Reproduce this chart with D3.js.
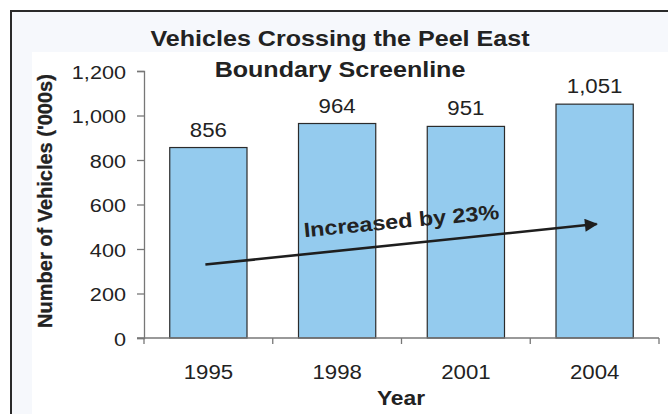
<!DOCTYPE html>
<html>
<head>
<meta charset="utf-8">
<script src="https://cdn.jsdelivr.net/npm/d3@7/dist/d3.min.js"></script>
<style>
  html, body { margin: 0; padding: 0; background: #ffffff; }
  svg { display: block; font-family: "Liberation Sans", Arial, sans-serif; }
</style>
</head>
<body>
<svg id="chart" width="668" height="414"></svg>
<script>
const years = ["1995", "1998", "2001", "2004"];
const vehicles = [856, 964, 951, 1051];
const yTicks = [0, 200, 400, 600, 800, 1000, 1200];
const titleLines = ["Vehicles Crossing the Peel East", "Boundary Screenline"];
const arrowFrom = { year: "1995", value: 330 };
const arrowTo = { year: "2004", value: 512 };
const arrowLabel = "Increased by 23%";

const svg = d3.select("#chart");
const W = 668, H = 414;
const SX = 1.14; // horizontal stretch of the original raster text

function addText(g, px, py, str, size, bold, anchor, extra) {
  return g.append("text")
    .attr("transform", `translate(${px},${py}) ${extra || ""} scale(${SX},1)`)
    .attr("text-anchor", anchor || "middle")
    .attr("font-size", size)
    .attr("font-weight", bold ? "bold" : "normal")
    .attr("fill", "#222")
    .text(str);
}

// frame
svg.append("rect").attr("x", 11).attr("y", 11).attr("width", W).attr("height", H)
  .attr("fill", "#f6f8fc").attr("stroke", "#2a2a2a").attr("stroke-width", 2);
svg.append("rect").attr("x", 32).attr("y", 52).attr("width", W - 32).attr("height", H - 52)
  .attr("fill", "#ffffff");

const plot = { left: 144, right: 659, top: 71, bottom: 338 };

const x = d3.scaleBand().domain(years).range([plot.left, plot.right]).paddingInner(0.4).paddingOuter(0.2);
const y = d3.scaleLinear().domain([0, 1200]).range([plot.bottom, plot.top]);

// y axis
const yAxis = d3.axisLeft(y).tickValues(yTicks).tickSize(7).tickPadding(11)
  .tickFormat(d3.format(","));
const gy = svg.append("g").attr("transform", `translate(${plot.left},0)`).call(yAxis);
gy.select(".domain").attr("stroke", "#777").attr("stroke-width", 1.3);
gy.selectAll(".tick line").attr("stroke", "#777").attr("stroke-width", 1.3);
gy.selectAll(".tick text")
  .attr("x", null).attr("dy", null)
  .attr("transform", `translate(-18,7) scale(${SX},1)`)
  .attr("font-size", 19).attr("fill", "#222")
  .attr("font-family", "Liberation Sans, Arial, sans-serif");

// bars
svg.append("g").selectAll("rect").data(years).join("rect")
  .attr("x", d => x(d))
  .attr("y", (d, i) => y(vehicles[i]))
  .attr("width", x.bandwidth())
  .attr("height", (d, i) => y(0) - y(vehicles[i]))
  .attr("fill", "#94cbee")
  .attr("stroke", "#2b2b2b")
  .attr("stroke-width", 1.2);

// x axis
const xGrid = d3.scaleLinear().domain([0, years.length]).range([plot.left, plot.right]);
const gx = svg.append("g");
gx.append("line").attr("x1", plot.left - 7).attr("x2", plot.right)
  .attr("y1", y(0)).attr("y2", y(0)).attr("stroke", "#777").attr("stroke-width", 1.3);
gx.selectAll("line.t").data(d3.range(years.length + 1)).join("line").attr("class", "t")
  .attr("x1", d => xGrid(d)).attr("x2", d => xGrid(d))
  .attr("y1", y(0)).attr("y2", y(0) + 6)
  .attr("stroke", "#777").attr("stroke-width", 1.3);
years.forEach(d => addText(gx, x(d) + x.bandwidth() / 2, 379, d, 19.5, false));

// value labels
const gv = svg.append("g");
years.forEach((d, i) => addText(gv, x(d) + x.bandwidth() / 2, y(vehicles[i]) - 11,
  d3.format(",")(vehicles[i]), 19.5, false));

// title
const gt = svg.append("g");
titleLines.forEach((t, i) => addText(gt, 340, 46 + i * 31, t, 22, true));

// axis titles
svg.append("text")
  .attr("transform", "translate(52,201) rotate(-90)")
  .attr("text-anchor", "middle")
  .attr("font-size", 20).attr("font-weight", "bold").attr("fill", "#222")
  .attr("stroke", "#222").attr("stroke-width", 0.3)
  .text("Number of Vehicles ('000s)");
addText(svg, 401, 405, "Year", 20, true);

// arrow
svg.append("defs").append("marker")
  .attr("id", "arrowhead").attr("viewBox", "0 0 10 10")
  .attr("refX", 9).attr("refY", 5)
  .attr("markerWidth", 6.5).attr("markerHeight", 5)
  .attr("markerUnits", "strokeWidth")
  .attr("orient", "auto")
  .append("path").attr("d", "M0,0 L10,5 L0,10 z").attr("fill", "#1e1e1e");

const ax1 = x(arrowFrom.year) + x.bandwidth() / 2 - 3, ay1 = y(arrowFrom.value);
const ax2 = x(arrowTo.year) + x.bandwidth() / 2 + 2, ay2 = y(arrowTo.value);
svg.append("line")
  .attr("x1", ax1).attr("y1", ay1).attr("x2", ax2).attr("y2", ay2)
  .attr("stroke", "#1e1e1e").attr("stroke-width", 2.6)
  .attr("marker-end", "url(#arrowhead)");

const angle = Math.atan2(ay2 - ay1, ax2 - ax1) * 180 / Math.PI;
addText(svg, 402, 228, arrowLabel, 20.5, true, "middle", `rotate(${angle + 0.5})`);
</script>
</body>
</html>
